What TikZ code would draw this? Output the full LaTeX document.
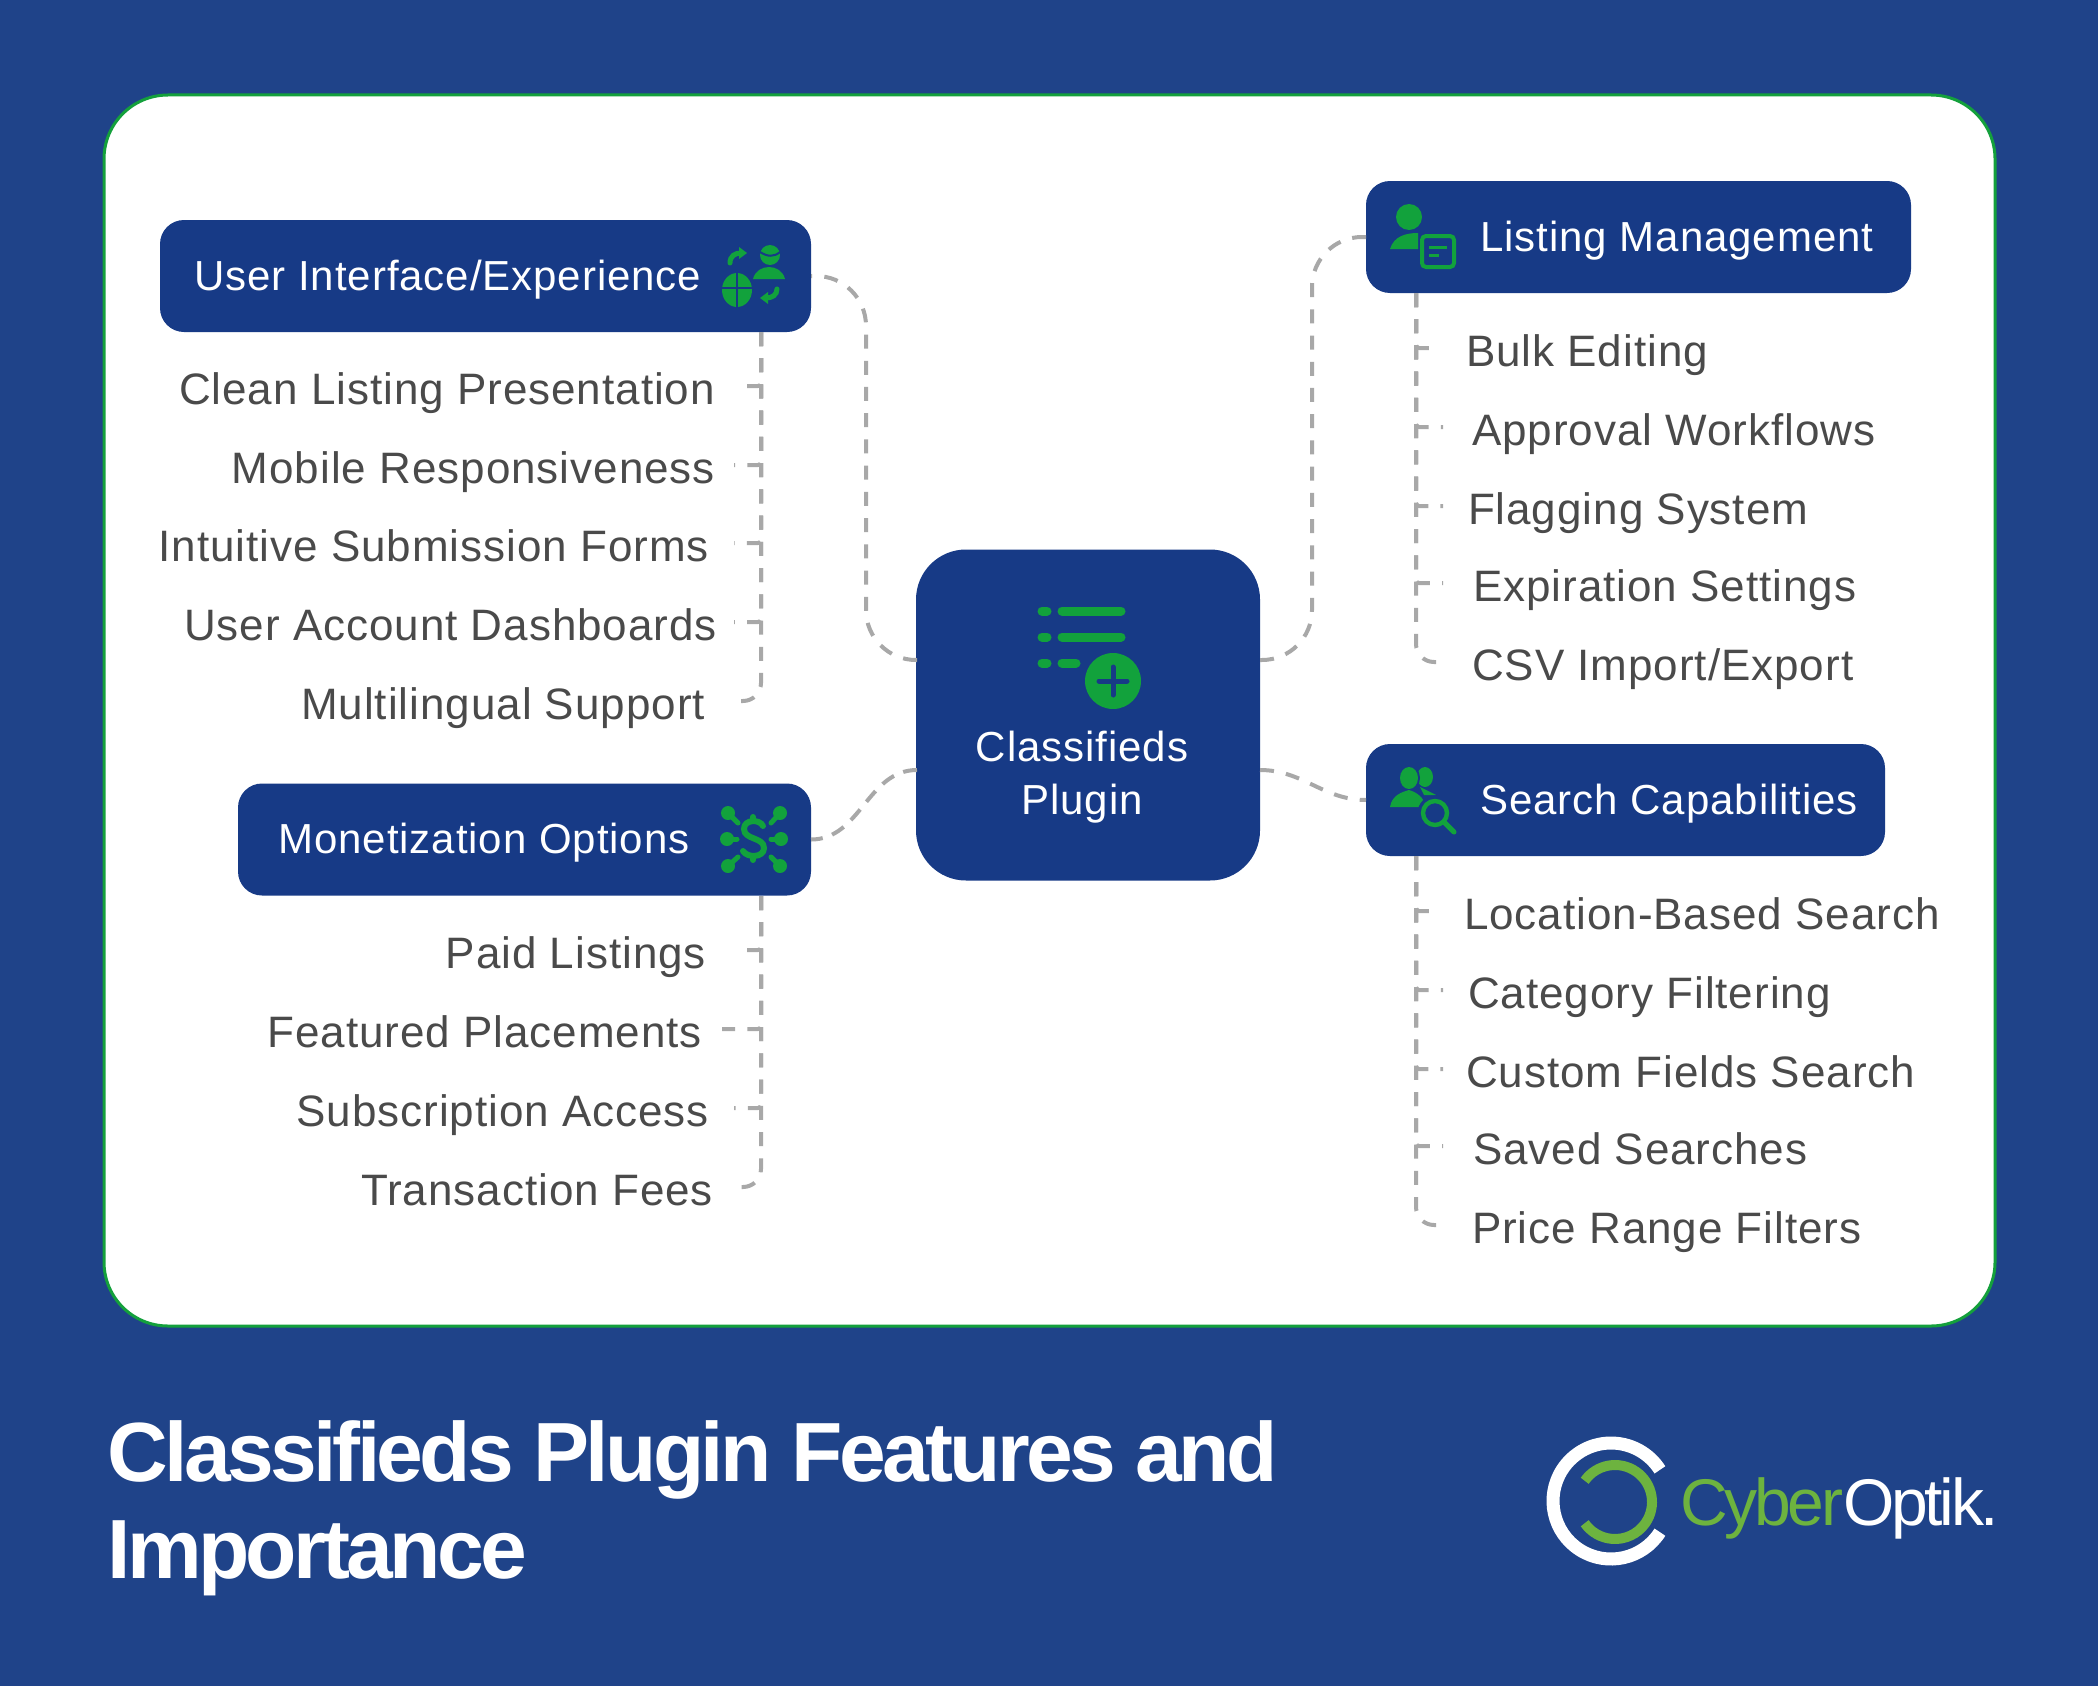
\documentclass[tikz,border=0pt]{standalone}
\usepackage{fontspec}
\setmainfont[LetterSpace=2.2]{Liberation Sans}
\newfontfamily\titlefont[LetterSpace=-4.4]{Liberation Sans}
\newfontfamily\logofont[LetterSpace=-5]{Liberation Sans}
\usepackage{tikz}
\definecolor{pagebg}{HTML}{1F4389}
\definecolor{boxbg}{HTML}{173A86}
\definecolor{cardline}{HTML}{14A03C}
\definecolor{icongreen}{HTML}{12A23C}
\definecolor{linkgray}{HTML}{A8A8A8}
\definecolor{itemgray}{HTML}{4A4A4A}
\definecolor{logogreen}{HTML}{6DB33F}
\tikzstyle{card}=[fill=white, draw=cardline, line width=1.5pt, rounded corners=32pt]
\tikzstyle{branch}=[fill=boxbg, inner sep=0, outer sep=0, rounded corners=12pt]
\tikzstyle{hub}=[branch, rounded corners=25pt]
\tikzstyle{branchlabel}=[inner sep=0, text=white, font=\fontsize{21}{26}\selectfont, text height=14pt, text depth=0pt]
\tikzstyle{item}=[inner sep=0, text=itemgray, font=\fontsize{22}{26}\selectfont, text height=18pt, text depth=0pt]
\tikzstyle{litem}=[item, anchor=east]
\tikzstyle{ritem}=[item, anchor=west]
\tikzstyle{link}=[draw=linkgray, line width=2pt, dash pattern=on 7pt off 6.115pt]
\tikzstyle{tick}=[link, rounded corners=1.5pt]
\tikzstyle{lasttick}=[link, rounded corners=9pt]
\tikzstyle{iconline}=[draw=icongreen, line width=2.5pt, line cap=round]
\tikzstyle{titletext}=[anchor=base west, inner sep=0, text=white, font=\fontsize{42}{48}\selectfont\titlefont\bfseries]

\begin{document}
\begin{tikzpicture}[x=0.5pt, y=-0.5pt]
    \useasboundingbox[fill=pagebg] (0, 0) rectangle (2098, 1686);
    \path[card] (104, 95) rectangle (1995, 1326);

    % Main boxes.
    \node[hub, minimum width=172pt, minimum height=165.5pt]  (center)  at (1088, 715) {};
    \node[branch, minimum width=325.5pt, minimum height=56pt] (ux)      at (485.5, 276) {};
    \node[branch, minimum width=286.5pt, minimum height=56pt] (money)   at (524.5, 839.5) {};
    \node[branch, minimum width=272.5pt, minimum height=56pt] (listing) at (1638.5, 237) {};
    \node[branch, minimum width=259.5pt, minimum height=56pt] (search)  at (1625.5, 800) {};

    \node[branchlabel, anchor=west] (uxlabel)      at (194, 276) {User Interface/Experience};
    \node[branchlabel, anchor=west] (moneylabel)   at (278, 839) {Monetization Options};
    \node[branchlabel, anchor=west] (listinglabel) at (1480, 237) {Listing Management};
    \node[branchlabel, anchor=west] (searchlabel)  at (1480, 800) {Search Capabilities};
    \node[branchlabel] (centertop)    at (1082, 747) {Classifieds};
    \node[branchlabel] (centerbottom) at (1082, 800) {Plugin};

    % Items on the left, the outer xsep is where the tick stops.
    \node[litem, outer xsep=14pt]   (clean)  at (743, 386) {Clean Listing Presentation};
    \node[litem, outer xsep=9.5pt]  (mobile) at (734, 465) {Mobile Responsiveness};
    \node[litem, outer xsep=12.5pt] (forms)  at (734, 543) {Intuitive Submission Forms};
    \node[litem, outer xsep=8.5pt]  (dash)   at (734, 622) {User Account Dashboards};
    \node[litem, outer xsep=17.5pt] (multi)  at (740, 701) {Multilingual Support};
    \node[litem, outer xsep=18.5pt] (paid)   at (743, 950) {Paid Listings};
    \node[litem, outer xsep=10pt]   (placed) at (722, 1029) {Featured Placements};
    \node[litem, outer xsep=12.5pt] (subs)   at (734, 1108) {Subscription Access};
    \node[litem, outer xsep=13.5pt] (fees)   at (740, 1187) {Transaction Fees};

    % Items on the right.
    \node[ritem, outer xsep=16pt]   (bulk)     at (1434, 348) {Bulk Editing};
    \node[ritem, outer xsep=14.5pt] (approval) at (1443, 427) {Approval Workflows};
    \node[ritem, outer xsep=12.5pt] (flag)     at (1443, 506) {Flagging System};
    \node[ritem, outer xsep=15pt]   (expiry)   at (1443, 583) {Expiration Settings};
    \node[ritem, outer xsep=16.5pt] (csv)      at (1439, 662) {CSV Import/Export};
    \node[ritem, outer xsep=15pt]   (place)    at (1434, 911) {Location-Based Search};
    \node[ritem, outer xsep=12.5pt] (category) at (1443, 990) {Category Filtering};
    \node[ritem, outer xsep=11.5pt] (custom)   at (1443, 1069) {Custom Fields Search};
    \node[ritem, outer xsep=15pt]   (saved)    at (1443, 1146) {Saved Searches};
    \node[ritem, outer xsep=16.5pt] (price)    at (1439, 1225) {Price Range Filters};

    % Connectors to the centre.
    \coordinate (centerwu) at (917, 660);
    \coordinate (centerwl) at (917, 770);
    \coordinate (centereu) at (1260, 660);
    \coordinate (centerel) at (1260, 770);
    \coordinate (lanew)    at (866, 660);
    \coordinate (lanee)    at (1312, 660);
    \draw[link, rounded corners=25pt] (centerwu) -- (lanew) |- (ux.east);
    \draw[link, rounded corners=25pt] (centereu) -- (lanee) |- (listing.west);
    \draw[link, dash pattern=on 7pt off 5pt] (centerwl) to[out=180, in=0] (money.east);
    \draw[link] (centerel) to[out=0, in=180] (search.west);

    % Trunks of the four lists.
    \coordinate (uxtrunk)      at (761, 332);
    \coordinate (moneytrunk)   at (761, 896);
    \coordinate (listingtrunk) at (1416, 293);
    \coordinate (searchtrunk)  at (1416, 856);
    \draw[tick] (uxtrunk) |- (clean.east);
    \draw[tick] (uxtrunk) |- (mobile.east);
    \draw[tick] (uxtrunk) |- (forms.east);
    \draw[tick] (uxtrunk) |- (dash.east);
    \draw[lasttick] (uxtrunk) |- (multi.east);
    \draw[tick] (moneytrunk) |- (paid.east);
    \draw[tick] (moneytrunk) |- (placed.east);
    \draw[tick] (moneytrunk) |- (subs.east);
    \draw[lasttick] (moneytrunk) |- (fees.east);
    \draw[tick] (listingtrunk) |- (bulk.west);
    \draw[tick] (listingtrunk) |- (approval.west);
    \draw[tick] (listingtrunk) |- (flag.west);
    \draw[tick] (listingtrunk) |- (expiry.west);
    \draw[lasttick] (listingtrunk) |- (csv.west);
    \draw[tick] (searchtrunk) |- (place.west);
    \draw[tick] (searchtrunk) |- (category.west);
    \draw[tick] (searchtrunk) |- (custom.west);
    \draw[tick] (searchtrunk) |- (saved.west);
    \draw[lasttick] (searchtrunk) |- (price.west);

    % Centre icon.
    \draw[iconline, line width=4.5pt] (1042, 611) -- (1047, 611);
    \draw[iconline, line width=4.5pt] (1062, 611) -- (1121, 611);
    \draw[iconline, line width=4.5pt] (1042, 637) -- (1047, 637);
    \draw[iconline, line width=4.5pt] (1062, 637) -- (1121, 637);
    \draw[iconline, line width=4.5pt] (1042, 663) -- (1047, 663);
    \draw[iconline, line width=4.5pt] (1062, 663) -- (1076, 663);
    \fill[icongreen] (1113, 681) circle (28);
    \draw[boxbg, line width=2.5pt, line cap=round] (1099, 681) -- (1127, 681);
    \draw[boxbg, line width=2.5pt, line cap=round] (1113, 667) -- (1113, 695);

    % User interface icon.
    \fill[icongreen] (737, 290) ellipse (15 and 17);
    \draw[boxbg, line width=1pt] (722, 288) -- (752, 288);
    \draw[boxbg, line width=1pt] (737, 272) -- (737, 308);
    \fill[icongreen] (770, 255) circle (10);
    \draw[boxbg, line width=1pt] (760, 252) .. controls (768, 257) and (774, 257) .. (780, 252);
    \fill[icongreen] (753, 279) .. controls (757, 263) and (781, 263) .. (785, 279) -- cycle;
    \draw[iconline] (730, 263) .. controls (730, 256) and (735, 253) .. (741, 253);
    \fill[icongreen] (739, 247) -- (747, 253) -- (739, 259) -- cycle;
    \draw[iconline] (777, 289) .. controls (777, 295) and (772, 298) .. (766, 298);
    \fill[icongreen] (768, 292) -- (760, 298) -- (768, 304) -- cycle;

    % Monetization icon.
    \fill[icongreen] (728, 813) circle (7);
    \fill[icongreen] (780, 813) circle (7);
    \fill[icongreen] (727, 839) circle (7);
    \fill[icongreen] (781, 839) circle (7);
    \fill[icongreen] (728, 866) circle (7);
    \fill[icongreen] (780, 866) circle (7);
    \draw[iconline] (728, 813) -- (738, 823);
    \draw[iconline] (780, 813) -- (771, 823);
    \draw[iconline] (727, 839) -- (737, 839);
    \draw[iconline] (781, 839) -- (771, 839);
    \draw[iconline] (728, 866) -- (738, 857);
    \draw[iconline] (780, 866) -- (771, 857);
    \draw[iconline, line width=3pt] (763, 826) .. controls (760, 819) and (744, 819) .. (744, 829)
        .. controls (744, 840) and (764, 837) .. (764, 848) .. controls (764, 858) and (747, 858) .. (743, 851);
    \draw[iconline, line width=3pt] (753, 817) -- (753, 821);
    \draw[iconline, line width=3pt] (753, 856) -- (753, 860);

    % Listing icon.
    \fill[icongreen] (1409, 217) circle (13);
    \fill[icongreen] (1390, 249) .. controls (1394, 236) and (1406, 233) .. (1418, 233) -- (1418, 249) -- cycle;
    \draw[icongreen, line width=2pt, fill=boxbg, rounded corners=2pt] (1422, 236) rectangle (1454, 267);
    \draw[icongreen, line width=1.5pt] (1429, 247) -- (1447, 247);
    \draw[icongreen, line width=1.5pt] (1429, 255) -- (1439, 255);

    % Search icon.
    \fill[icongreen] (1425, 777) ellipse (8 and 10);
    \fill[icongreen] (1420, 787) -- (1436, 795) -- (1424, 795) -- cycle;
    \fill[boxbg] (1409, 778) ellipse (11 and 13);
    \fill[icongreen] (1409, 778) ellipse (9 and 11);
    \fill[icongreen] (1390, 807) .. controls (1392, 795) and (1402, 792) .. (1409, 790)
        .. controls (1416, 792) and (1424, 797) .. (1426, 807) -- cycle;
    \draw[boxbg, fill=boxbg] (1435, 813) circle (17);
    \draw[icongreen, line width=2.2pt] (1435, 813) circle (12);
    \draw[iconline] (1444, 822) -- (1454, 832);

    % Title and logo.
    \node[titletext] (title1) at (107, 1481) {Classifieds Plugin Features and};
    \node[titletext] (title2) at (107, 1578) {Importance};
    \draw[white, line width=6.5pt] ([shift={(32.5:58)}]1611, 1501) arc[start angle=32.5, end angle=327.5, radius=58];
    \draw[logogreen, line width=5pt] ([shift={(-145:37)}]1615, 1502) arc[start angle=-145, end angle=145, radius=37];
    \node[anchor=base west, inner sep=0, font=\fontsize{33}{36}\selectfont\logofont] (logo) at (1680, 1525) {\textcolor{logogreen}{Cyber}\textcolor{white}{Optik.}};
\end{tikzpicture}
\end{document}
